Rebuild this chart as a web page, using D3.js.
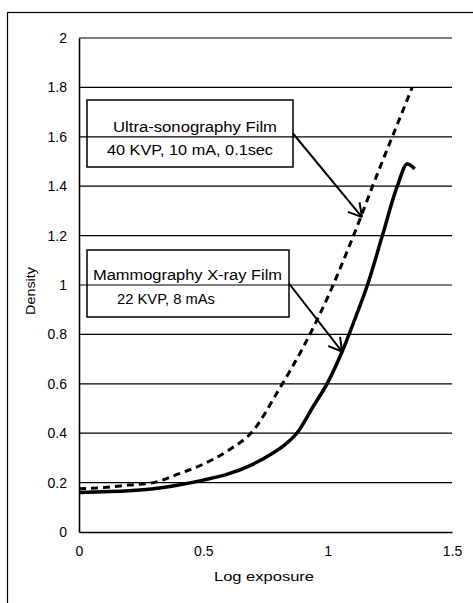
<!DOCTYPE html>
<html>
<head>
<meta charset="utf-8">
<script src="https://cdn.jsdelivr.net/npm/d3@7"></script>
<style>
  html, body { margin: 0; padding: 0; background: #fff; }
  svg { display: block; font-family: "Liberation Sans", Arial, sans-serif; }
</style>
</head>
<body>
<div id="chart"></div>
<script>
"use strict";

/* ── Data ── */
const mammoX = [0, 0.1, 0.2, 0.3, 0.4, 0.5, 0.6, 0.69, 0.78, 0.83, 0.88, 0.94, 1.0, 1.06, 1.12, 1.16, 1.22, 1.28, 1.32, 1.35];
const mammoY = [0.16, 0.163, 0.167, 0.175, 0.19, 0.21, 0.235, 0.27, 0.32, 0.355, 0.405, 0.505, 0.605, 0.735, 0.89, 1.0, 1.2, 1.4, 1.49, 1.47];

const sonoX = [0, 0.1, 0.2, 0.3, 0.4, 0.5, 0.6, 0.7, 0.8, 0.9, 1.0, 1.1, 1.2, 1.3, 1.34];
const sonoY = [0.175, 0.18, 0.19, 0.20, 0.235, 0.275, 0.33, 0.41, 0.57, 0.745, 0.95, 1.19, 1.45, 1.70, 1.80];

const xTicks = [0, 0.5, 1, 1.5];
const yTicks = [0, 0.2, 0.4, 0.6, 0.8, 1, 1.2, 1.4, 1.6, 1.8, 2];

const noteLines = [
  ["Ultra-sonography Film", "40 KVP, 10 mA, 0.1sec"],
  ["Mammography X-ray Film", "22 KVP, 8 mAs"]
];
const noteTipX = [1.138, 1.058];
const noteTipY = [1.275, 0.73];

/* ── Layout ── */
const W = 473, H = 603;
const plot = { left: 79, right: 452, top: 38, bottom: 532 };

const svg = d3.select("#chart").append("svg")
  .attr("width", W).attr("height", H);

/* outer frame (runs off the right and bottom edges) */
svg.append("rect")
  .attr("x", 7.5).attr("y", 12.5)
  .attr("width", 500).attr("height", 620)
  .attr("fill", "none").attr("stroke", "#000").attr("stroke-width", 1.2);

/* ── Scales ── */
const x = d3.scaleLinear().domain([0, 1.5]).range([plot.left, plot.right]);
const y = d3.scaleLinear().domain([0, 2]).range([plot.bottom, plot.top]);

/* ── Gridlines ── */
svg.append("g")
  .selectAll("line")
  .data(yTicks.filter(d => d > 0))
  .join("line")
  .attr("x1", plot.left).attr("x2", plot.right)
  .attr("y1", d => y(d)).attr("y2", d => y(d))
  .attr("stroke", "#000").attr("stroke-width", 1.2);

/* ── Axes ── */
svg.append("g")
  .attr("transform", `translate(0,${plot.bottom})`)
  .call(d3.axisBottom(x).tickValues(xTicks).tickSize(0).tickPadding(14)
    .tickFormat(d => d3.format("")(d)))
  .call(g => {
    g.select(".domain").attr("stroke", "#000").attr("stroke-width", 1.6);
    g.selectAll(".tick text").attr("fill", "#000").attr("font-size", "14px")
      .attr("font-family", "Liberation Sans, Arial, sans-serif");
  });

svg.append("g")
  .attr("transform", `translate(${plot.left},0)`)
  .call(d3.axisLeft(y).tickValues(yTicks).tickSize(0).tickPadding(12)
    .tickFormat(d => d3.format("")(d)))
  .call(g => {
    g.select(".domain").attr("stroke", "#000").attr("stroke-width", 1.6);
    g.selectAll(".tick text").attr("fill", "#000").attr("font-size", "14px")
      .attr("font-family", "Liberation Sans, Arial, sans-serif");
  });

/* axis titles */
svg.append("text")
  .attr("x", 264).attr("y", 581)
  .attr("text-anchor", "middle")
  .attr("font-size", "13px")
  .attr("textLength", 100).attr("lengthAdjust", "spacingAndGlyphs")
  .text("Log exposure");

svg.append("text")
  .attr("transform", "translate(35,291) rotate(-90)")
  .attr("text-anchor", "middle")
  .attr("font-size", "12px")
  .attr("textLength", 48).attr("lengthAdjust", "spacingAndGlyphs")
  .text("Density");

/* ── Curves ── */
const line = d3.line()
  .x(d => x(d[0]))
  .y(d => y(d[1]))
  .curve(d3.curveMonotoneX);

svg.append("path")
  .datum(sonoX.map((v, i) => [v, sonoY[i]]))
  .attr("d", line)
  .attr("fill", "none").attr("stroke", "#000")
  .attr("stroke-width", 3).attr("stroke-dasharray", "7,5");

svg.append("path")
  .datum(mammoX.map((v, i) => [v, mammoY[i]]))
  .attr("d", line)
  .attr("fill", "none").attr("stroke", "#000")
  .attr("stroke-width", 3.5).attr("stroke-linejoin", "round");

/* ── Annotation boxes and arrows ── */
const boxes = [
  { x: 87, y: 100, w: 206, h: 67, lines: [
      { x: 113, y: 132, len: 164 }, { x: 107, y: 155, len: 166 } ] },
  { x: 87, y: 250, w: 202, h: 67, lines: [
      { x: 93, y: 280, len: 189 }, { x: 117, y: 304, len: 98 } ] }
];

boxes.forEach((b, i) => {
  svg.append("rect")
    .attr("x", b.x).attr("y", b.y).attr("width", b.w).attr("height", b.h)
    .attr("fill", "none").attr("stroke", "#000").attr("stroke-width", 1.5);

  b.lines.forEach((l, j) => {
    svg.append("text")
      .attr("x", l.x).attr("y", l.y)
      .attr("font-size", "14px")
      .attr("textLength", l.len).attr("lengthAdjust", "spacingAndGlyphs")
      .text(noteLines[i][j]);
  });

  const x0 = b.x + b.w, y0 = b.y + b.h / 2;
  const tx = x(noteTipX[i]), ty = y(noteTipY[i]);
  const ang = Math.atan2(ty - y0, tx - x0);
  const head = 15, spread = Math.PI / 6;

  svg.append("line")
    .attr("x1", x0).attr("y1", y0).attr("x2", tx).attr("y2", ty)
    .attr("stroke", "#000").attr("stroke-width", 2);

  [-spread, spread].forEach(s => {
    svg.append("line")
      .attr("x1", tx).attr("y1", ty)
      .attr("x2", tx - head * Math.cos(ang + s))
      .attr("y2", ty - head * Math.sin(ang + s))
      .attr("stroke", "#000").attr("stroke-width", 2);
  });
});
</script>
</body>
</html>
